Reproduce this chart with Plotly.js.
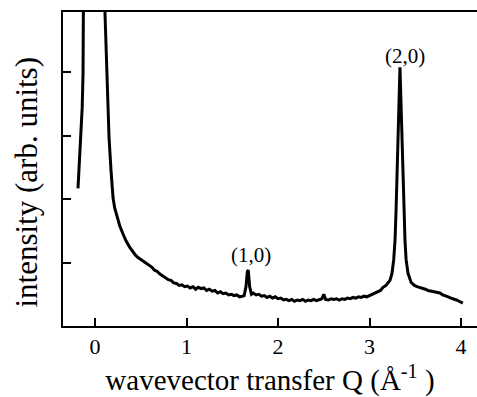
<!DOCTYPE html>
<html>
<head>
<meta charset="utf-8">
<script src="https://cdn.plot.ly/plotly-3.0.1.min.js"></script>
<style>html,body{margin:0;padding:0;background:#fff;}#chart{width:477px;height:397px;}</style>
</head>
<body>
<div id="chart"></div>
<script>
// wavevector transfer Q (1/Angstrom)
const qValues = [
  -0.186, -0.17, -0.153, -0.14, -0.131, -0.12, 0.0, 0.109, 0.13, 0.153, 0.175, 0.197, 0.215, 0.24, 0.27, 0.306, 0.34, 0.38, 0.41, 0.44, 0.47,
  0.50, 0.53, 0.56, 0.59, 0.62, 0.65, 0.68, 0.71, 0.74, 0.77, 0.80, 0.83, 0.86, 0.89, 0.92, 0.95, 0.98,
  1.01, 1.04, 1.07, 1.10, 1.13, 1.16, 1.19, 1.22, 1.25, 1.28, 1.31, 1.34, 1.37, 1.40, 1.43, 1.46, 1.49,
  1.52, 1.55, 1.58, 1.61, 1.63, 1.65, 1.665, 1.675, 1.69, 1.71, 1.73, 1.76, 1.79, 1.82, 1.85, 1.88, 1.91,
  1.94, 1.97, 2.00, 2.03, 2.06, 2.09, 2.12, 2.15, 2.18, 2.21, 2.24, 2.27, 2.30, 2.33, 2.36, 2.39, 2.42,
  2.45, 2.48, 2.50, 2.52, 2.55, 2.58, 2.61, 2.64, 2.67, 2.70, 2.73, 2.76, 2.79, 2.82, 2.85, 2.88, 2.91,
  2.94, 2.97, 3.00, 3.03, 3.06, 3.09, 3.12, 3.148, 3.18, 3.224, 3.246, 3.265, 3.279, 3.29, 3.301, 3.317,
  3.333, 3.35, 3.366, 3.377, 3.388, 3.40, 3.421, 3.454, 3.49, 3.52, 3.552, 3.58, 3.61, 3.64, 3.67, 3.70,
  3.73, 3.77, 3.80, 3.83, 3.86, 3.89, 3.92, 3.95, 3.98, 4.02
];
// intensity (arb. units)
const intensityValues = [
  2.17, 2.55, 2.98, 3.45, 3.98, 4.93, 40, 4.93, 3.90, 2.98, 2.45, 2.02, 1.86, 1.74, 1.58, 1.45, 1.34, 1.24, 1.17, 1.12, 1.08,
  1.05, 1.02, 0.99, 0.95, 0.93, 0.88, 0.86, 0.82, 0.79, 0.77, 0.73, 0.72, 0.68, 0.67, 0.64, 0.65, 0.62,
  0.63, 0.60, 0.62, 0.58, 0.61, 0.59, 0.60, 0.56, 0.58, 0.55, 0.56, 0.52, 0.54, 0.51, 0.52, 0.49, 0.50,
  0.48, 0.49, 0.46, 0.47, 0.48, 0.62, 0.86, 0.88, 0.62, 0.50, 0.52, 0.49, 0.50, 0.47, 0.48, 0.45, 0.47,
  0.44, 0.46, 0.43, 0.44, 0.41, 0.42, 0.40, 0.42, 0.39, 0.41, 0.40, 0.42, 0.39, 0.41, 0.40, 0.42, 0.40,
  0.41, 0.43, 0.50, 0.42, 0.41, 0.43, 0.42, 0.43, 0.41, 0.43, 0.42, 0.44, 0.43, 0.45, 0.44, 0.46, 0.45,
  0.47, 0.46, 0.48, 0.50, 0.51, 0.54, 0.56, 0.61, 0.64, 0.72, 0.83, 1.05, 1.35, 1.80, 2.30, 3.24,
  4.08, 3.24, 2.30, 1.80, 1.35, 1.05, 0.83, 0.69, 0.64, 0.62, 0.61, 0.59, 0.58, 0.56, 0.55, 0.54,
  0.53, 0.52, 0.49, 0.48, 0.46, 0.44, 0.43, 0.41, 0.39, 0.36
];
const xTickVals = [0, 1, 2, 3, 4];
const xTickText = ['0', '1', '2', '3', '4'];
const yTickVals = [1, 2, 3, 4];
const peakLabels = ['(1,0)', '(2,0)'];
const peakLabelQ = [1.70, 3.39];
const peakLabelI = [1.12, 4.25];
const xTitle = 'wavevector transfer Q (Å<sup>-1</sup> )';
const yTitle = 'intensity (arb. units)';

const serif = 'Liberation Serif, Times New Roman, serif';

const trace = {
  x: qValues, y: intensityValues, type: 'scatter', mode: 'lines',
  line: {color: '#000', width: 3}, hoverinfo: 'skip'
};

const annotations = peakLabels.map((t, i) => ({
  x: peakLabelQ[i], y: peakLabelI[i], xref: 'x', yref: 'y', text: t,
  showarrow: false, font: {family: serif, size: 21, color: '#000'}
}));
annotations.push({
  x: -0.087, y: 0.46, xref: 'paper', yref: 'paper', text: yTitle,
  textangle: -90, showarrow: false, xanchor: 'center', yanchor: 'middle',
  font: {family: serif, size: 31, color: '#000'}
});

const layout = {
  width: 477, height: 397,
  margin: {l: 63, r: 0, t: 12, b: 71},
  paper_bgcolor: '#fff', plot_bgcolor: '#fff',
  showlegend: false,
  font: {family: serif, color: '#000'},
  xaxis: {
    range: [-0.35, 4.175], tickvals: xTickVals, ticktext: xTickText,
    ticks: 'inside', ticklen: 8, tickwidth: 2, tickcolor: '#000',
    showline: true, linewidth: 2, linecolor: '#000', mirror: true,
    showgrid: false, zeroline: false,
    tickfont: {family: serif, size: 22, color: '#000'},
    title: {text: xTitle, font: {family: serif, size: 29, color: '#000'}}
  },
  yaxis: {
    range: [0, 4.95], tickvals: yTickVals, showticklabels: false,
    ticks: 'inside', ticklen: 8, tickwidth: 2, tickcolor: '#000',
    showline: true, linewidth: 2, linecolor: '#000', mirror: false,
    showgrid: false, zeroline: false
  },
  annotations: annotations
};

Plotly.newPlot('chart', [trace], layout, {displayModeBar: false, staticPlot: true});
</script>
</body>
</html>
